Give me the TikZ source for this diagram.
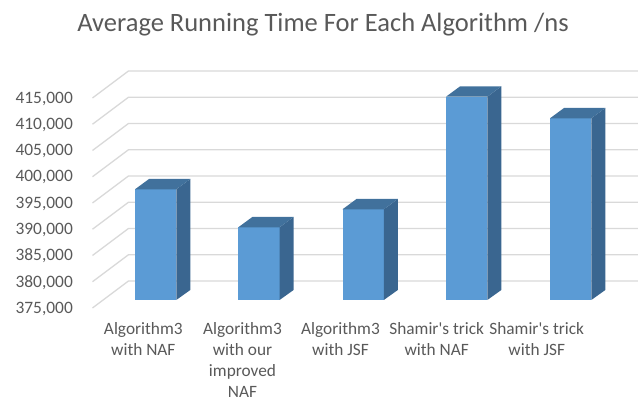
\documentclass[tikz,border=0pt]{standalone}
\usepackage{fontspec}
\newfontfamily\calib{Carlito}
\definecolor{txt}{HTML}{595959}
\definecolor{grid}{HTML}{D9D9D9}
\definecolor{barfront}{HTML}{5B9BD5}
\definecolor{barside}{HTML}{3A6690}
\definecolor{bartop}{HTML}{41719C}
\begin{document}
\begin{tikzpicture}[x=1pt,y=-1pt,
  gridline/.style={draw=grid,line width=1.3pt},
  axlabel/.style={anchor=east,text=txt,font=\calib\fontsize{17.4}{21}\selectfont,inner sep=0pt},
  catlabel/.style={anchor=north,text=txt,font=\calib\fontsize{17.3}{21}\selectfont,align=center,inner sep=0pt},
  front/.style={fill=barfront},
  side/.style={fill=barside},
  top/.style={fill=bartop}]
\useasboundingbox (0,0) rectangle (638,403);
% title
\node[text=txt,font=\calib\fontsize{26.5}{30}\selectfont,inner sep=0pt] (title) at (323,25) {Average Running Time For Each Algorithm /ns};
% grid
\foreach \k/\v in {0/415,1/410,2/405,3/400,4/395,5/390,6/385,7/380,8/375}{
  \pgfmathsetmacro{\yy}{71+26.25*\k}
  \draw[gridline] (92.5,\yy+27) -- (128.5,\yy) -- (638,\yy);
  \node[axlabel] (y\v) at (73,\yy+27.5) {\v,000};
}
% bars
\foreach \i/\xl/\yt in {1/135/189.3,2/238.3/227.3,3/342.5/209.3,4/446/96.7,5/550/118.3}{
  \pgfmathsetmacro{\xr}{\xl+41.3}
  \fill[front] (\xl,300) rectangle (\xr,\yt);
  \fill[side] (\xr,300) -- (\xr+14,290) -- (\xr+14,\yt-10.3) -- (\xr,\yt) -- cycle;
  \fill[top] (\xl,\yt) -- (\xl+14,\yt-10.3) -- (\xr+14,\yt-10.3) -- (\xr,\yt) -- cycle;
}
% category labels
\node[catlabel] (c1) at (143.3,322) {Algorithm3\\with NAF};
\node[catlabel] (c2) at (242.5,322) {Algorithm3\\with our\\improved\\NAF};
\node[catlabel] (c3) at (340.5,322) {Algorithm3\\with JSF};
\node[catlabel] (c4) at (436.7,322) {Shamir's trick\\with NAF};
\node[catlabel] (c5) at (536.7,322) {Shamir's trick\\with JSF};
\end{tikzpicture}
\end{document}
